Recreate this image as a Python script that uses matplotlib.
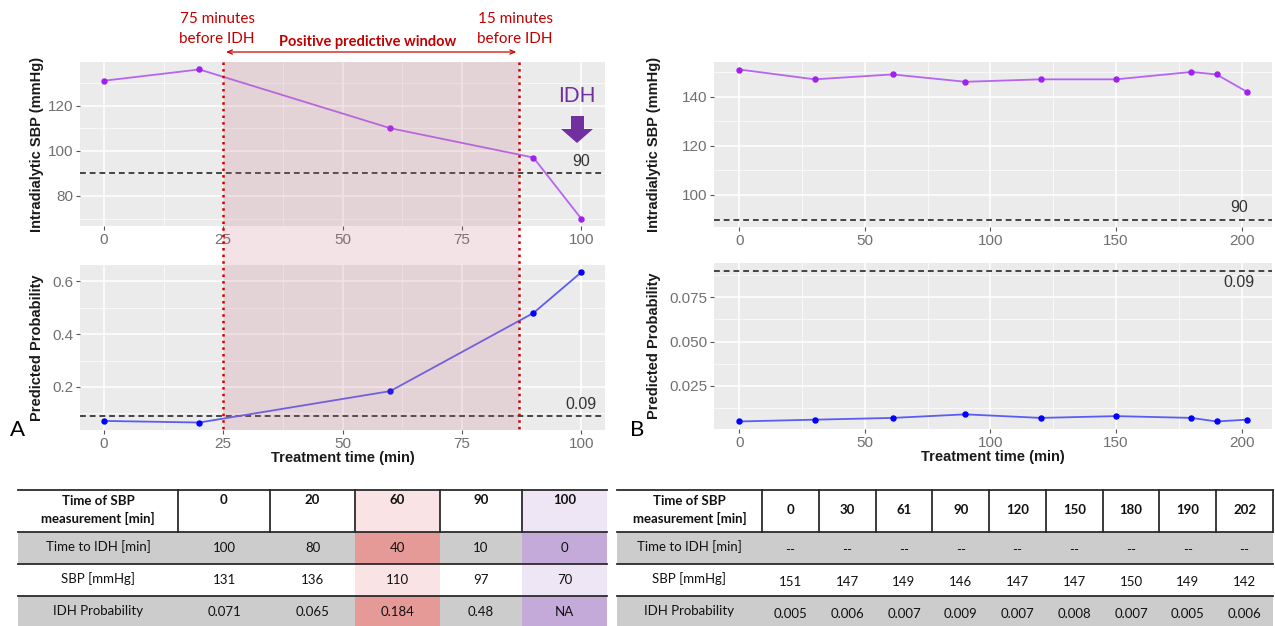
import matplotlib
matplotlib.use("Agg")
import matplotlib.pyplot as plt
from matplotlib.transforms import Affine2D, blended_transform_factory
from matplotlib.patches import Rectangle, Polygon, FancyArrowPatch
from matplotlib.lines import Line2D
from matplotlib.ticker import MultipleLocator, FormatStrFormatter

# patient A (IDH event)
time_a = [0, 20, 60, 90, 100]
sbp_a = [131, 136, 110, 97, 70]
prob_a = [0.071, 0.065, 0.184, 0.48, 0.634]

# patient B (no IDH)
time_b = [0, 30, 61, 90, 120, 150, 180, 190, 202]
sbp_b = [151, 147, 149, 146, 147, 147, 150, 149, 142]
prob_b = [0.005, 0.006, 0.007, 0.009, 0.007, 0.008, 0.007, 0.005, 0.006]

sbp_cut = 90
prob_cut = 0.09
window = [25, 87]   # positive predictive window (min)

# table contents
row_labels = ["Time of SBP\nmeasurement [min]", "Time to IDH [min]", "SBP [mmHg]", "IDH Probability"]
tab_a_idh = ["100", "80", "40", "10", "0"]
tab_a_sbp = ["131", "136", "110", "97", "70"]
tab_a_prob = ["0.071", "0.065", "0.184", "0.48", "NA"]
tab_b_idh = ["--"] * 9
tab_b_sbp = ["151", "147", "149", "146", "147", "147", "150", "149", "142"]
tab_b_prob = ["0.005", "0.006", "0.007", "0.009", "0.007", "0.008", "0.007", "0.005", "0.006"]

W, H = 1275, 626
plt.rcParams['font.family'] = ['Liberation Sans', 'DejaVu Sans']
fig = plt.figure(figsize=(W / 100, H / 100), dpi=100)
fig.patch.set_facecolor('white')
# pixel coordinates, origin top left
pxT = Affine2D().scale(1 / W, -1 / H).translate(0, 1) + fig.transFigure

RED = '#d00000'
TXTRED = '#c00000'
PURPLE = '#7030a0'


def box(l, t, r, b):
    return [l / W, 1 - b / H, (r - l) / W, (b - t) / H]


def gg(ax, xlim, ylim, xstep, ystep, yfmt):
    # ggplot2 theme_gray look
    ax.set_facecolor('#ebebeb')
    for s in ax.spines.values():
        s.set_visible(False)
    ax.set_xlim(xlim)
    ax.set_ylim(ylim)
    ax.xaxis.set_major_locator(MultipleLocator(xstep))
    ax.xaxis.set_minor_locator(MultipleLocator(xstep / 2))
    ax.yaxis.set_major_locator(MultipleLocator(ystep))
    ax.yaxis.set_minor_locator(MultipleLocator(ystep / 2))
    ax.yaxis.set_major_formatter(FormatStrFormatter(yfmt))
    ax.grid(which='major', color='white', lw=1.1)
    ax.grid(which='minor', color='white', lw=0.5)
    ax.set_axisbelow(True)
    ax.tick_params(which='major', length=3, width=0.8, color='#555555',
                   labelcolor='#707070', labelsize=11, pad=2)
    ax.tick_params(which='minor', length=0)


def cutline(ax, y, label, x, above=True):
    ax.axhline(y, color='#444444', ls=(0, (3, 2)), lw=1.4, zorder=2)
    ax.annotate(label, (x, y), xytext=(0, 3 if above else -3), textcoords='offset points',
                ha='center', va='bottom' if above else 'top', fontsize=11.5, color='#333333')


def ylab(ax, text, xpos):
    ax.set_ylabel(text, fontweight='bold', fontsize=10.5, color='#1a1a1a')
    ax.yaxis.set_label_coords(xpos, 0.5)


def series(ax, x, y, lc, pc):
    ax.plot(x, y, color=lc, lw=1.3, zorder=3)
    ax.plot(x, y, ls='none', marker='o', ms=3.6, color=pc, zorder=4)


# ---- panel A ----
axA1 = fig.add_axes(box(80, 62, 605, 226))
gg(axA1, (-5, 105), (66.7, 139.3), 25, 20, '%d')
series(axA1, time_a, sbp_a, '#b565f2', '#a020f0')
cutline(axA1, sbp_cut, '90', 100)
ylab(axA1, 'Intradialytic SBP (mmHg)', -0.068)

axA2 = fig.add_axes(box(80, 265, 605, 430))
gg(axA2, (-5, 105), (0.0366, 0.662), 25, 0.2, '%.1f')
series(axA2, time_a, prob_a, '#5c5cf5', '#0000ff')
cutline(axA2, prob_cut, '0.09', 100)
ylab(axA2, 'Predicted Probability', -0.068)
axA2.set_xlabel('Treatment time (min)', fontweight='bold', fontsize=10.5, color='#1a1a1a', labelpad=0)

# ---- panel B ----
axB1 = fig.add_axes(box(714, 62, 1272, 227))
gg(axB1, (-10.1, 212.1), (86.95, 154.05), 50, 20, '%d')
series(axB1, time_b, sbp_b, '#b565f2', '#a020f0')
cutline(axB1, sbp_cut, '90', 199)
ylab(axB1, 'Intradialytic SBP (mmHg)', -0.095)

axB2 = fig.add_axes(box(714, 263, 1272, 429))
gg(axB2, (-10.1, 212.1), (0.00075, 0.09425), 50, 0.025, '%.3f')
series(axB2, time_b, prob_b, '#5c5cf5', '#0000ff')
cutline(axB2, prob_cut, '0.09', 199, above=False)
ylab(axB2, 'Predicted Probability', -0.095)
axB2.set_xlabel('Treatment time (min)', fontweight='bold', fontsize=10.5, color='#1a1a1a', labelpad=0)

# ---- predictive window across both A panels ----
bt = blended_transform_factory(axA1.transData, pxT)
fig.add_artist(Rectangle((window[0], 62), window[1] - window[0], 368, transform=bt,
                         facecolor=(200 / 255, 115 / 255, 130 / 255), alpha=0.2, lw=0, zorder=5))
for wx in window:
    fig.add_artist(Line2D([wx, wx], [62, 430], transform=bt, color=RED, ls=':', lw=1.8, zorder=6))
fig.add_artist(FancyArrowPatch((window[0], 52), (window[1], 52), transform=bt,
                               arrowstyle='<->,head_length=0.35,head_width=0.15', mutation_scale=10,
                               color=RED, lw=0.9, zorder=6))

fig.text(217, 19, '75 minutes', transform=pxT, ha='center', va='center', color=TXTRED, family='Lato', fontsize=11)
fig.text(217, 39, 'before IDH', transform=pxT, ha='center', va='center', color=TXTRED, family='Lato', fontsize=11)
fig.text(515, 19, '15 minutes', transform=pxT, ha='center', va='center', color=TXTRED, family='Lato', fontsize=11)
fig.text(515, 39, 'before IDH', transform=pxT, ha='center', va='center', color=TXTRED, family='Lato', fontsize=11)
fig.text(368, 42, 'Positive predictive window', transform=pxT, ha='center', va='center',
         color=TXTRED, family='Lato', fontsize=10.5, fontweight='bold')

# IDH marker
fig.text(577, 96, 'IDH', transform=pxT, ha='center', va='center', color=PURPLE, family='Lato', fontsize=15)
fig.add_artist(Polygon([(571, 116), (584, 116), (584, 129), (593, 129), (577, 143), (561, 129), (571, 129)],
                       closed=True, transform=pxT, facecolor=PURPLE, edgecolor='none', zorder=6))

fig.text(18, 430, 'A', transform=pxT, ha='center', va='center', family='Lato', fontsize=16)
fig.text(637, 430, 'B', transform=pxT, ha='center', va='center', family='Lato', fontsize=16)

# ---- tables ----
row_y = [490, 532, 564, 596, 626]
row_bg = ['white', '#cccccc', 'white', '#cccccc']


def draw_table(xe, head, rows, hilite, head_top, right_line):
    nrow = len(row_y) - 1
    for r in range(nrow):
        for c in range(len(xe) - 1):
            fc = row_bg[r]
            if c - 1 in hilite:
                fc = hilite[c - 1][0] if r in (0, 2) else hilite[c - 1][1]
            fig.add_artist(Rectangle((xe[c], row_y[r]), xe[c + 1] - xe[c], row_y[r + 1] - row_y[r],
                                     transform=pxT, facecolor=fc, lw=0, zorder=1))
    for yy in row_y[:-1]:
        fig.add_artist(Line2D([xe[0], xe[-1]], [yy, yy], transform=pxT, color='#2b2b2b', lw=1.3, zorder=2))
    vx = xe[1:] if right_line else xe[1:-1]
    for xx in vx:
        fig.add_artist(Line2D([xx, xx], [row_y[0], row_y[1]], transform=pxT, color='#2b2b2b', lw=1.3, zorder=2))
    tk = dict(transform=pxT, ha='center', family='Lato', fontsize=9.5, color='#111111', zorder=3)
    fig.text((xe[0] + xe[1]) / 2, 510, row_labels[0], va='center', fontweight='bold', linespacing=1.45, **tk)
    for i, lab in enumerate(row_labels[1:]):
        fig.text((xe[0] + xe[1]) / 2, row_y[i + 1] + 15, lab, va='center', **tk)
    for c, h in enumerate(head):
        cx = (xe[c + 1] + xe[c + 2]) / 2
        fig.text(cx, 500 if head_top else 510, h, va='center', fontweight='bold', **tk)
        for i, vals in enumerate(rows):
            fig.text(cx, row_y[i + 1] + (16 if head_top else 18), vals[c], va='center', **tk)


xa = [18, 178, 270, 355, 440, 522, 607]
draw_table(xa, [str(t) for t in time_a], [tab_a_idh, tab_a_sbp, tab_a_prob],
           {2: ('#f9e3e4', '#e69a98'), 4: ('#eee6f4', '#c4aad9')}, True, False)

xb = [617] + [762 + i * (1273 - 762) / 9 for i in range(10)]
draw_table(xb, [str(t) for t in time_b], [tab_b_idh, tab_b_sbp, tab_b_prob], {}, False, True)

fig.savefig('out.png', dpi=100)
